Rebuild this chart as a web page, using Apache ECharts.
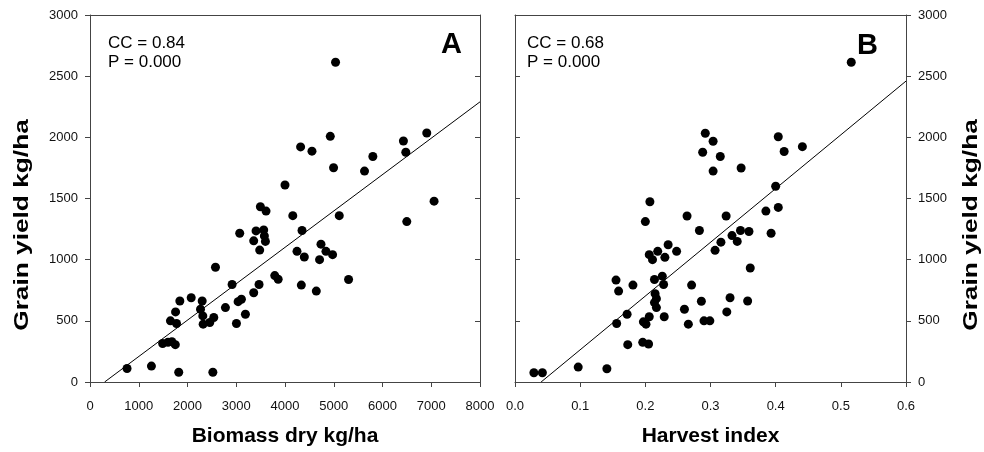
<!DOCTYPE html>
<html><head><meta charset="utf-8">
<script src="https://cdn.jsdelivr.net/npm/echarts@6/dist/echarts.min.js"></script>
<style>html,body{margin:0;padding:0;background:#fff}#c{width:984px;height:452px}</style>
</head><body><div id="c"></div>
<script>
// Panel A: biomass dry (kg/ha) vs grain yield (kg/ha)
const biomassA = [760,1260,1820,2520,1490,1600,1680,1750,1650,1775,1755,1843,2076,2301,2267,2314,2321,2457,2539,2574,2778,2915,3004,3038,3106,3188,3071,3358,3468,3358,3406,3481,3563,3577,3598,3495,3611,3790,3860,4000,4160,4349,4246,4396,4335,4642,4709,4738,4840,4976,5113,5304,6498,7058,5037,4320,4553,4929,4996,5631,5802,6429,6478,6908];
const yieldA   = [110,130,80,80,315,325,330,305,500,478,573,662,689,662,595,540,473,486,527,938,608,797,478,657,676,554,1216,730,797,1154,1235,1078,1243,1194,1149,1433,1397,870,840,1610,1360,1238,1068,1022,792,743,1000,1127,1068,1041,1360,838,1311,1478,2614,1922,1887,2008,1751,1724,1843,1970,1878,2035];
// Panel B: harvest index vs grain yield (kg/ha)
const harvestB = [0.029,0.042,0.097,0.141,0.155,0.159,0.181,0.172,0.156,0.173,0.196,0.205,0.197,0.201,0.206,0.229,0.200,0.207,0.206,0.211,0.219,0.230,0.235,0.248,0.264,0.283,0.214,0.226,0.228,0.215,0.217,0.214,0.217,0.260,0.266,0.271,0.286,0.290,0.299,0.324,0.307,0.316,0.333,0.341,0.346,0.359,0.361,0.330,0.325,0.357,0.385,0.404,0.393,0.400,0.516,0.292,0.304,0.288,0.315,0.304,0.347,0.404,0.413,0.441];
const yieldB   = [76,76,122,108,833,743,792,554,478,305,324,311,492,473,533,533,1311,1473,1041,1000,1068,1019,1122,1068,1357,1238,838,865,797,722,681,649,608,595,473,792,660,500,500,1357,1076,1143,1197,1149,1238,1230,932,689,573,662,1397,1427,1216,1600,2614,2033,1968,1878,1843,1724,1749,2005,1884,1924];
// Regression fits: [intercept, slope], and x-range of the drawn line
const fitA = [-89, 0.2974];
const fitRangeA = [300, 8000];
const fitB = [-176, 4393];
const fitRangeB = [0.04, 0.6];
// Tick labels / axis ranges
const yTicks = [0, 500, 1000, 1500, 2000, 2500, 3000];
const xTicksA = [0, 1000, 2000, 3000, 4000, 5000, 6000, 7000, 8000];
const xTicksB = [0.0, 0.1, 0.2, 0.3, 0.4, 0.5, 0.6];
const statsA = ['CC = 0.84', 'P = 0.000'];
const statsB = ['CC = 0.68', 'P = 0.000'];
const panelLabels = ['A', 'B'];
const axisNames = ['Biomass dry kg/ha', 'Harvest index', 'Grain yield kg/ha'];

const FONT = '"Liberation Sans", Arial, Helvetica, sans-serif';
const lineCol = '#444';

function pts(xs, ys) { return xs.map((x, i) => [x, ys[i]]); }
function fitLine(f, r) { return r.map(x => [x, f[0] + f[1] * x]); }

function xAx(grid, ticks, name, fmt) {
  const base = {
    gridIndex: grid, type: 'value', min: ticks[0], max: ticks[ticks.length - 1],
    interval: ticks[1] - ticks[0], splitLine: { show: false },
    axisLine: { show: true, onZero: false, lineStyle: { color: lineCol, width: 1 } }
  };
  return [
    Object.assign({}, base, {
      position: 'bottom',
      axisTick: { show: true, inside: false, length: 5, lineStyle: { color: lineCol } },
      axisLabel: { show: true, margin: 18, fontSize: 13, color: '#111', fontFamily: FONT, formatter: fmt },
      name: name, nameLocation: 'middle', nameGap: 44,
      nameTextStyle: { fontSize: 21, fontWeight: 'bold', color: '#000', fontFamily: FONT }
    }),
    Object.assign({}, base, {
      position: 'top', axisTick: { show: false }, axisLabel: { show: false }
    })
  ];
}
function yAx(grid, labelSide) {
  const base = {
    gridIndex: grid, type: 'value', min: yTicks[0], max: yTicks[yTicks.length - 1],
    interval: yTicks[1] - yTicks[0], splitLine: { show: false },
    axisLine: { show: true, onZero: false, lineStyle: { color: lineCol, width: 1 } }
  };
  const labelled = Object.assign({}, base, {
    position: labelSide,
    axisTick: { show: true, inside: false, length: 5, lineStyle: { color: lineCol } },
    axisLabel: { show: true, margin: 12, fontSize: 13, color: '#111', fontFamily: FONT, formatter: v => String(v) }
  });
  const plain = Object.assign({}, base, {
    position: labelSide === 'left' ? 'right' : 'left',
    axisTick: { show: true, inside: true, length: 5, lineStyle: { color: lineCol } },
    axisLabel: { show: false }
  });
  return labelSide === 'left' ? [labelled, plain] : [plain, labelled];
}

const xs = xAx(0, xTicksA, axisNames[0], v => String(v))
  .concat(xAx(1, xTicksB, axisNames[1], v => v.toFixed(1)));
const ys = yAx(0, 'left').concat(yAx(1, 'right'));

function statText(lines, left, top) {
  return lines.map((t, i) => ({
    type: 'text', left: left, top: top + i * 19,
    style: { text: t, fontSize: 17, fontFamily: FONT, fill: '#000' }
  }));
}
function yTitle(x, y) {
  return {
    type: 'text', x: x, y: y, rotation: Math.PI / 2, scaleX: 1.25,
    style: { text: axisNames[2], fontSize: 21, fontWeight: 'bold', fontFamily: FONT, fill: '#000',
             align: 'center', verticalAlign: 'middle' }
  };
}

const chart = echarts.init(document.getElementById('c'), null, { renderer: 'canvas' });
chart.setOption({
  animation: false,
  backgroundColor: '#fff',
  grid: [
    { left: 90, top: 15, width: 390, height: 370 },
    { left: 515, top: 15, width: 391, height: 370 }
  ],
  xAxis: xs,
  yAxis: ys,
  graphic: statText(statsA, 108, 35).concat(statText(statsB, 527, 35)).concat([
    { type: 'text', left: 441, top: 30, style: { text: panelLabels[0], fontSize: 29, fontWeight: 'bold', fontFamily: FONT, fill: '#000' } },
    { type: 'text', left: 857, top: 31, style: { text: panelLabels[1], fontSize: 29, fontWeight: 'bold', fontFamily: FONT, fill: '#000' } },
    yTitle(22, 225),
    yTitle(971, 225)
  ]),
  series: [
    { type: 'scatter', xAxisIndex: 0, yAxisIndex: 0, data: pts(biomassA, yieldA), symbolSize: 9, itemStyle: { color: '#000', opacity: 1 }, silent: true },
    { type: 'line', xAxisIndex: 0, yAxisIndex: 0, data: fitLine(fitA, fitRangeA), symbol: 'none', lineStyle: { color: '#000', width: 1 }, silent: true },
    { type: 'scatter', xAxisIndex: 2, yAxisIndex: 2, data: pts(harvestB, yieldB), symbolSize: 9, itemStyle: { color: '#000', opacity: 1 }, silent: true },
    { type: 'line', xAxisIndex: 2, yAxisIndex: 2, data: fitLine(fitB, fitRangeB), symbol: 'none', lineStyle: { color: '#000', width: 1 }, silent: true }
  ]
});
</script>
</body></html>
